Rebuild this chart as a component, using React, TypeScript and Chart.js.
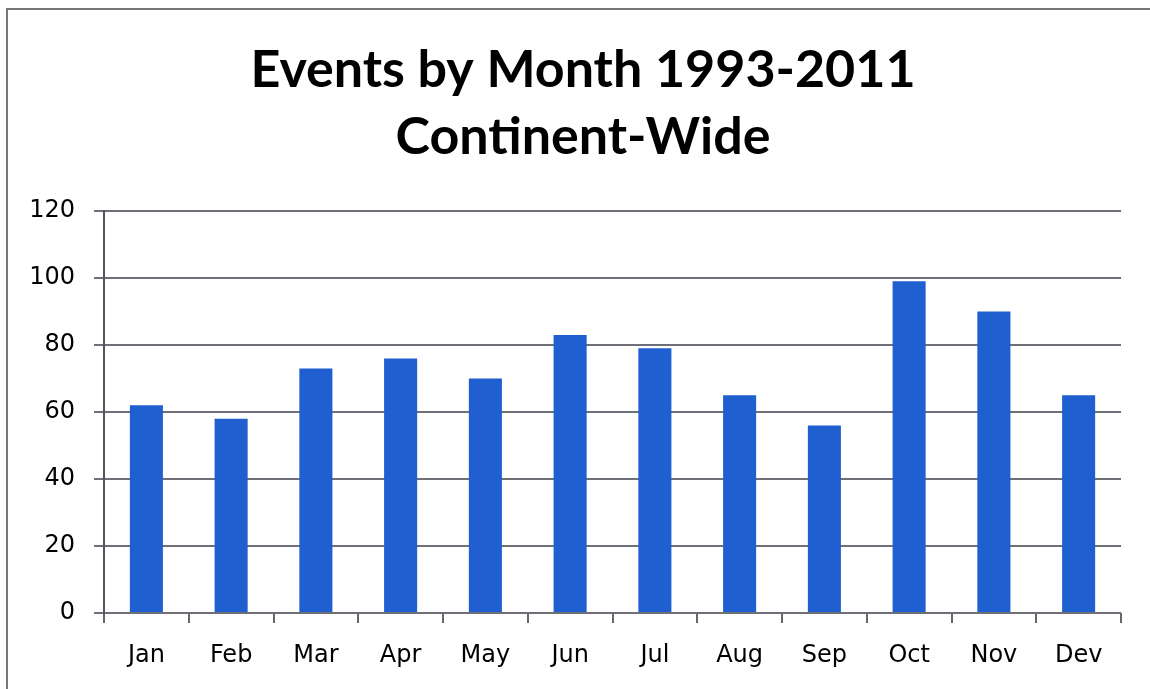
import React, { useEffect, useRef } from "react";
import { Chart, registerables } from "chart.js";

Chart.register(...registerables);

const months = ["Jan", "Feb", "Mar", "Apr", "May", "Jun", "Jul", "Aug", "Sep", "Oct", "Nov", "Dev"];
const events = [62, 58, 73, 76, 70, 83, 79, 65, 56, 99, 90, 65];
const titleLines = ["Events by Month 1993-2011", "Continent-Wide"];
const yMin = 0;
const yMax = 120;
const yStep = 20;

const titlePlugin = {
  id: "centeredTitle",
  afterDraw(chart: any) {
    const c = chart.ctx;
    c.save();
    c.fillStyle = "#000";
    c.font = "bold 52px Lato";
    c.textAlign = "center";
    c.textBaseline = "middle";
    const cx = 583;
    titleLines.forEach((line, i) => {
      c.fillText(line, cx, 70 + i * 67);
    });
    c.restore();
  },
};

export default function App() {
  const ref = useRef<HTMLCanvasElement | null>(null);

  useEffect(() => {
    document.body.style.margin = "0";
    const ctx = ref.current;
    if (!ctx) return;
    const chart = new Chart(ctx, {
      type: "bar",
      data: {
        labels: months,
        datasets: [
          {
            label: "Events",
            data: events,
            backgroundColor: "#1f5fcf",
            borderWidth: 0,
            barPercentage: 0.39,
            categoryPercentage: 1,
          },
        ],
      },
      plugins: [titlePlugin],
      options: {
        animation: false,
        responsive: false,
        maintainAspectRatio: false,
        layout: { padding: { left: 0, right: 29, top: 211, bottom: 0 } },
        plugins: {
          legend: { display: false },
          tooltip: { enabled: false },
          title: { display: false },
        },
        scales: {
          x: {
            grid: {
              display: true,
              drawOnChartArea: false,
              drawTicks: true,
              tickLength: 10,
              color: "#666",
              lineWidth: 2,
              offset: true,
            },
            border: { display: false },
            ticks: {
              color: "#000",
              font: { family: "DejaVu Sans", size: 24 },
              padding: 18,
            },
            afterFit: (s: any) => {
              s.height = 76;
            },
          },
          y: {
            min: yMin,
            max: yMax,
            ticks: {
              stepSize: yStep,
              color: "#000",
              font: { family: "DejaVu Sans", size: 24 },
              padding: 19,
            },
            grid: {
              color: "#6f6f78",
              lineWidth: 2,
              drawTicks: true,
              tickLength: 10,
            },
            border: { display: true, color: "#555", width: 2 },
            afterFit: (s: any) => {
              s.width = 104;
            },
          },
        },
      },
    });
    return () => chart.destroy();
  }, []);

  return (
    <div style={{ position: "fixed", left: 0, top: 0, width: 1150, height: 689, background: "#fff", overflow: "hidden" }}>
      <div
        style={{
          position: "absolute",
          left: 6,
          top: 8,
          width: 1200,
          height: 800,
          border: "2px solid #777",
        }}
      />
      <canvas ref={ref} width={1150} height={689} style={{ position: "absolute", left: 0, top: 0 }} />
    </div>
  );
}
